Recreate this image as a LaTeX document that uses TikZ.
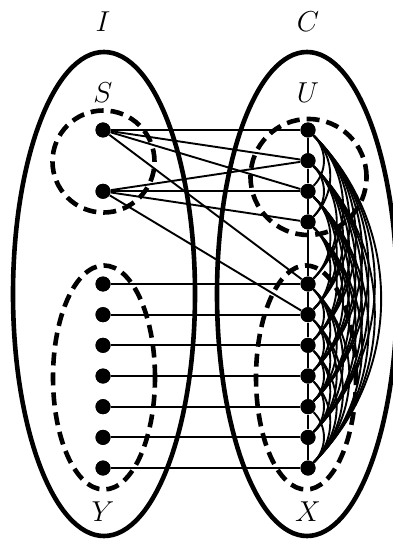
\documentclass[tikz,border=0pt]{standalone}
\begin{document}
\begin{tikzpicture}[x=0.5pt,y=-0.5pt,
  dot/.style={circle,fill=black,draw=none,inner sep=0pt,minimum size=7.5pt},
  bigell/.style={line width=2.3pt},
  dashell/.style={line width=2.3pt,dash pattern=on 6.5pt off 3.5pt},
  edge/.style={line width=0.95pt},
  lab/.style={font=\Large}]
\useasboundingbox (0,0) rectangle (392,539);
% labels
\node[lab] (lI) at (103,22) {$I$};
\node[lab] (lC) at (308,22) {$C$};
\node[lab] (lS) at (103,93) {$S$};
\node[lab] (lU) at (308,93) {$U$};
\node[lab] (lY) at (103,512) {$Y$};
\node[lab] (lX) at (308,512) {$X$};
% big ellipses
\draw[bigell] (104,294) ellipse [x radius=45.5pt, y radius=121pt];
\draw[bigell] (307,294) ellipse [x radius=45pt, y radius=121pt];
% nodes
\node[dot] (s1) at (103,130) {};
\node[dot] (s2) at (103,191.3) {};
\foreach \k/\yy in {1/130,2/160.7,3/191.3,4/222} {
  \node[dot] (r\k) at (308,\yy) {};
}
\foreach \k in {1,...,7} {
  \pgfmathsetmacro{\yy}{284+30.67*(\k-1)}
  \pgfmathtruncatemacro{\rk}{\k+4}
  \node[dot] (y\k) at (103,\yy) {};
  \node[dot] (r\rk) at (308,\yy) {};
}
% clique arcs
\foreach \i in {1,...,9} {
  \pgfmathtruncatemacro{\s}{\i+2}
  \foreach \j in {\s,...,11} {
    \draw[edge] (r\i) to[bend left=45] (r\j);
  }
}
\foreach \i in {1,...,10} {
  \pgfmathtruncatemacro{\n}{\i+1}
  \draw[edge] (r\i) -- (r\n);
}
% S edges
\draw[edge] (s1) -- (r1);
\draw[edge] (s1) -- (r2);
\draw[edge] (s1) -- (r3);
\draw[edge] (s1) -- (r5);
\draw[edge] (s2) -- (r2);
\draw[edge] (s2) -- (r3);
\draw[edge] (s2) -- (r4);
\draw[edge] (s2) -- (r6);
% Y-X matching
\foreach \k in {1,...,7} {
  \pgfmathtruncatemacro{\rk}{\k+4}
  \draw[edge] (y\k) -- (r\rk);
}
% dashed sets
\draw[dashell] (103.5,161.5) circle [radius=25.5pt];
\draw[dashell] (308.5,177) circle [radius=29pt];
\draw[dashell] (104,377.5) ellipse [x radius=25.5pt, y radius=56pt];
\draw[dashell] (306,377.5) ellipse [x radius=25pt, y radius=56pt];
% redraw dots on top
\foreach \n in {s1,s2,y1,y2,y3,y4,y5,y6,y7,r1,r2,r3,r4,r5,r6,r7,r8,r9,r10,r11} {
  \fill (\n.center) circle [radius=3.75pt];
}
\end{tikzpicture}
\end{document}
